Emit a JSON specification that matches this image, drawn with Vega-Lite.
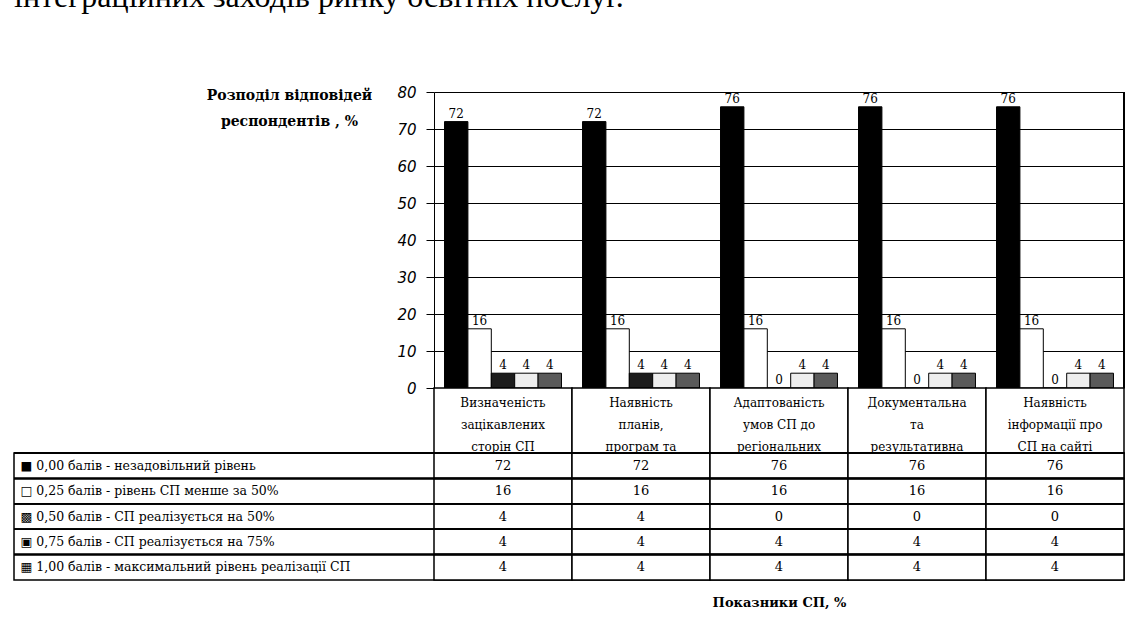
{
  "$schema": "https://vega.github.io/schema/vega-lite/v6.json",
  "autosize": {"type": "pad"},
  "padding": {"left": 12, "top": -19, "right": 18, "bottom": 10},
  "background": "white",
  "title": {
    "text": "інтеграційних заходів ринку освітніх послуг.",
    "anchor": "start",
    "frame": "group",
    "font": "Liberation Serif",
    "fontSize": 32,
    "fontWeight": "normal",
    "color": "black",
    "baseline": "alphabetic",
    "offset": 46
  },
  "datasets": {
    "vals": [
      {"cat": "Визначеність|зацікавлених|сторін СП", "series": "0,00 балів - незадовільний рівень", "value": 72},
      {"cat": "Наявність|планів,|програм та", "series": "0,00 балів - незадовільний рівень", "value": 72},
      {"cat": "Адаптованість|умов СП до|регіональних", "series": "0,00 балів - незадовільний рівень", "value": 76},
      {"cat": "Документальна|та|результативна", "series": "0,00 балів - незадовільний рівень", "value": 76},
      {"cat": "Наявність|інформації про|СП на сайті", "series": "0,00 балів - незадовільний рівень", "value": 76},
      {"cat": "Визначеність|зацікавлених|сторін СП", "series": "0,25 балів - рівень СП менше за 50%", "value": 16},
      {"cat": "Наявність|планів,|програм та", "series": "0,25 балів - рівень СП менше за 50%", "value": 16},
      {"cat": "Адаптованість|умов СП до|регіональних", "series": "0,25 балів - рівень СП менше за 50%", "value": 16},
      {"cat": "Документальна|та|результативна", "series": "0,25 балів - рівень СП менше за 50%", "value": 16},
      {"cat": "Наявність|інформації про|СП на сайті", "series": "0,25 балів - рівень СП менше за 50%", "value": 16},
      {"cat": "Визначеність|зацікавлених|сторін СП", "series": "0,50 балів - СП реалізується на 50%", "value": 4},
      {"cat": "Наявність|планів,|програм та", "series": "0,50 балів - СП реалізується на 50%", "value": 4},
      {"cat": "Адаптованість|умов СП до|регіональних", "series": "0,50 балів - СП реалізується на 50%", "value": 0},
      {"cat": "Документальна|та|результативна", "series": "0,50 балів - СП реалізується на 50%", "value": 0},
      {"cat": "Наявність|інформації про|СП на сайті", "series": "0,50 балів - СП реалізується на 50%", "value": 0},
      {"cat": "Визначеність|зацікавлених|сторін СП", "series": "0,75 балів - СП реалізується на 75%", "value": 4},
      {"cat": "Наявність|планів,|програм та", "series": "0,75 балів - СП реалізується на 75%", "value": 4},
      {"cat": "Адаптованість|умов СП до|регіональних", "series": "0,75 балів - СП реалізується на 75%", "value": 4},
      {"cat": "Документальна|та|результативна", "series": "0,75 балів - СП реалізується на 75%", "value": 4},
      {"cat": "Наявність|інформації про|СП на сайті", "series": "0,75 балів - СП реалізується на 75%", "value": 4},
      {"cat": "Визначеність|зацікавлених|сторін СП", "series": "1,00 балів - максимальний рівень реалізації СП", "value": 4},
      {"cat": "Наявність|планів,|програм та", "series": "1,00 балів - максимальний рівень реалізації СП", "value": 4},
      {"cat": "Адаптованість|умов СП до|регіональних", "series": "1,00 балів - максимальний рівень реалізації СП", "value": 4},
      {"cat": "Документальна|та|результативна", "series": "1,00 балів - максимальний рівень реалізації СП", "value": 4},
      {"cat": "Наявність|інформації про|СП на сайті", "series": "1,00 балів - максимальний рівень реалізації СП", "value": 4}
    ]
  },
  "config": {
    "view": {"stroke": null},
    "concat": {"spacing": 0},
    "font": "DejaVu Serif"
  },
  "bounds": "flush",
  "resolve": {"scale": {"x": "independent", "y": "independent"}},
  "vconcat": [
    {
      "width": 1110,
      "height": 296,
      "data": {"name": "vals"},
      "encoding": {
        "x": {"field": "cat", "type": "nominal", "sort": null,
          "scale": {"range": [420, 1110], "paddingInner": 0, "paddingOuter": 0}, "axis": null},
        "xOffset": {"field": "series", "type": "nominal", "sort": null,
          "scale": {"paddingInner": 0, "paddingOuter": 0.45}},
        "y": {"field": "value", "type": "quantitative",
          "scale": {"domain": [0, 80], "nice": false},
          "axis": {
            "offset": -420,
            "values": [0, 10, 20, 30, 40, 50, 60, 70, 80],
            "labelFont": "DejaVu Sans",
            "labelFontStyle": "italic",
            "labelFontSize": 15,
            "labelColor": "black",
            "labelPadding": 10,
            "tickColor": "black",
            "tickSize": 8,
            "domainColor": "black",
            "grid": true,
            "gridColor": "black",
            "gridOpacity": 1,
            "title": ["Розподіл відповідей", "респондентів , %"],
            "titleAngle": 0,
            "titleAlign": "center",
            "titleBaseline": "top",
            "titleX": -145,
            "titleY": -4,
            "titleFont": "DejaVu Serif",
            "titleFontWeight": "bold",
            "titleFontSize": 14,
            "titleLineHeight": 26,
            "titleColor": "black"
          }
        }
      },
      "layer": [
        {
          "mark": {"type": "bar", "stroke": "black", "strokeWidth": 1},
          "encoding": {
            "color": {"field": "series", "type": "nominal", "sort": null,
              "scale": {"range": ["#000000", "#ffffff", "#1c1c1c", "#eeeeee", "#5a5a5a"]},
              "legend": null}
          }
        },
        {
          "mark": {"type": "text", "dy": -8, "fontSize": 12, "font": "DejaVu Serif", "color": "black"},
          "encoding": {"text": {"field": "value", "type": "quantitative"}}
        },
        {
          "mark": {"type": "rule", "color": "black"},
          "encoding": {
            "x": {"datum": "Наявність|інформації про|СП на сайті", "bandPosition": 1},
            "xOffset": null,
            "y": {"datum": 0},
            "y2": {"datum": 80}
          }
        }
      ]
    },
    {
      "width": 1110,
      "height": 65,
      "data": {"name": "vals"},
      "transform": [{"filter": "datum.series == '0,00 балів - незадовільний рівень'"}],
      "encoding": {
        "x": {"field": "cat", "type": "nominal", "sort": null,
          "scale": {"range": [420, 1110], "paddingInner": 0, "paddingOuter": 0}, "axis": null}
      },
      "layer": [
        {"mark": {"type": "rect", "fill": "white", "stroke": "black", "strokeWidth": 1.5}},
        {"mark": {"type": "text", "lineBreak": "|", "fontSize": 12, "lineHeight": 22, "dy": -17.5, "font": "DejaVu Serif", "color": "black", "baseline": "middle"},
          "encoding": {"text": {"field": "cat", "type": "nominal"}}}
      ]
    },
    {
      "width": 1110,
      "height": 127,
      "view": {"stroke": "black", "strokeWidth": 1.5},
      "data": {"name": "vals"},
      "encoding": {
        "x": {"field": "cat", "type": "nominal", "sort": null,
          "scale": {"range": [420, 1110], "paddingInner": 0, "paddingOuter": 0},
          "axis": {"labels": false, "ticks": false, "domain": false,
            "title": "Показники СП, %", "titleFont": "DejaVu Serif", "titleFontWeight": "bold",
            "titleFontSize": 13, "titlePadding": 16, "titleColor": "black"}},
        "y": {"field": "series", "type": "nominal", "sort": null,
          "scale": {"paddingInner": 0, "paddingOuter": 0},
          "axis": {"title": null, "domain": false, "ticks": false, "labelAlign": "left",
            "labelPadding": -6, "labelFont": "DejaVu Serif", "labelFontSize": 12.5, "labelColor": "black", "labelLimit": 0,
            "labelExpr": "(slice(datum.label,0,4)=='0,00' ? '■ ' : slice(datum.label,0,4)=='0,25' ? '□ ' : slice(datum.label,0,4)=='0,50' ? '▩ ' : slice(datum.label,0,4)=='0,75' ? '▣ ' : '▦ ') + datum.label"}
        }
      },
      "layer": [
        {"mark": {"type": "rect", "fill": "white", "stroke": "black", "strokeWidth": 1.5}},
        {"mark": {"type": "rule", "color": "black", "strokeWidth": 1.5},
          "encoding": {"x": null, "y": {"field": "series", "type": "nominal", "sort": null, "bandPosition": 0}}},
        {"mark": {"type": "text", "fontSize": 13, "font": "DejaVu Serif", "color": "black"},
          "encoding": {"text": {"field": "value", "type": "quantitative"}}}
      ]
    }
  ]
}
